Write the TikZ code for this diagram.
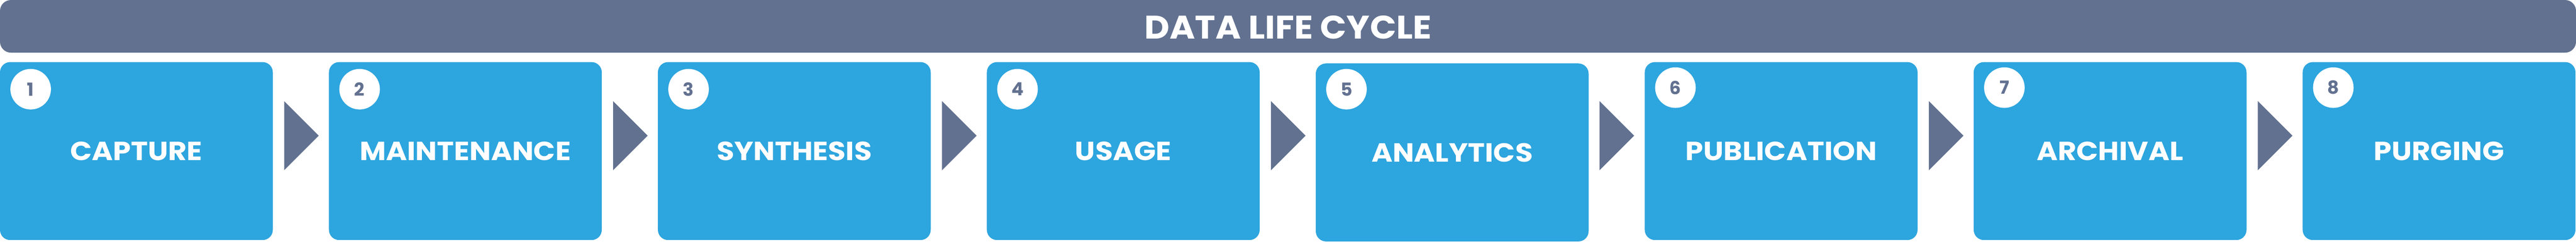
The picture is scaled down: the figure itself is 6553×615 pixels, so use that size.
\documentclass[tikz,border=0pt]{standalone}
\usepackage{fontspec}
\setmainfont{Poppins}
\newfontfamily\wideboxfont{Poppins}[FakeStretch=1.09]
\newfontfamily\widetitlefont{Poppins}[FakeStretch=1.06]
\definecolor{stepblue}{HTML}{2DA5DE}
\definecolor{slate}{HTML}{627190}
\tikzset{
  stepbox/.style={fill=stepblue, rounded corners=6.5pt, minimum width=173.5pt, minimum height=113.25pt, inner sep=0pt, text=white, font=\wideboxfont\fontsize{16.7}{18}\selectfont\bfseries},
  numdot/.style={circle, fill=white, minimum size=25.8pt, inner sep=0pt, text=slate, font=\fontsize{11.5}{12}\selectfont\bfseries},
  chevron/.style={fill=slate},
  titlebar/.style={fill=slate, rounded corners=7pt},
  titletext/.style={text=white, inner sep=0pt, font=\widetitlefont\fontsize{20.8}{22}\selectfont\bfseries}
}
\begin{document}
\begin{tikzpicture}[x=0.25pt,y=-0.25pt]
\useasboundingbox (0,0) rectangle (6553,615);
\fill[titlebar] (0,0) rectangle (6553,134);
\node[titletext] (title) at (3276.5,69) {DATA LIFE CYCLE};
% boxes
\node[stepbox] (b1) at (347,384.5) {CAPTURE};
\node[stepbox] (b2) at (1183.8,384.5) {MAINTENANCE};
\node[stepbox] (b3) at (2020.6,384.5) {SYNTHESIS};
\node[stepbox] (b4) at (2857.4,384.5) {USAGE};
\node[stepbox] (b5) at (3694.2,388) {ANALYTICS};
\node[stepbox] (b6) at (4531,384.5) {PUBLICATION};
\node[stepbox] (b7) at (5367.8,384.5) {ARCHIVAL};
\node[stepbox] (b8) at (6204.6,384.5) {PURGING};
% numbers
\node[numdot] (n1) at (78,227) {1};
\node[numdot] (n2) at (914.8,227) {2};
\node[numdot] (n3) at (1751.6,227) {3};
\node[numdot] (n4) at (2588.4,227) {4};
\node[numdot] (n5) at (3425.2,227) {5};
\node[numdot] (n6) at (4262,223) {6};
\node[numdot] (n7) at (5098.8,223) {7};
\node[numdot] (n8) at (5935.6,223) {8};
% chevrons between boxes
\foreach \a/\b in {b1/b2,b2/b3,b3/b4,b4/b5,b6/b7,b7/b8}{
  \fill[chevron] (\a.north east) ++(28,100) -- ++(88,88) -- ++(-88,88) -- cycle;
}
\fill[chevron] (b5.north east) ++(27,96.5) -- ++(88,88) -- ++(-88,88) -- cycle;
\end{tikzpicture}
\end{document}
